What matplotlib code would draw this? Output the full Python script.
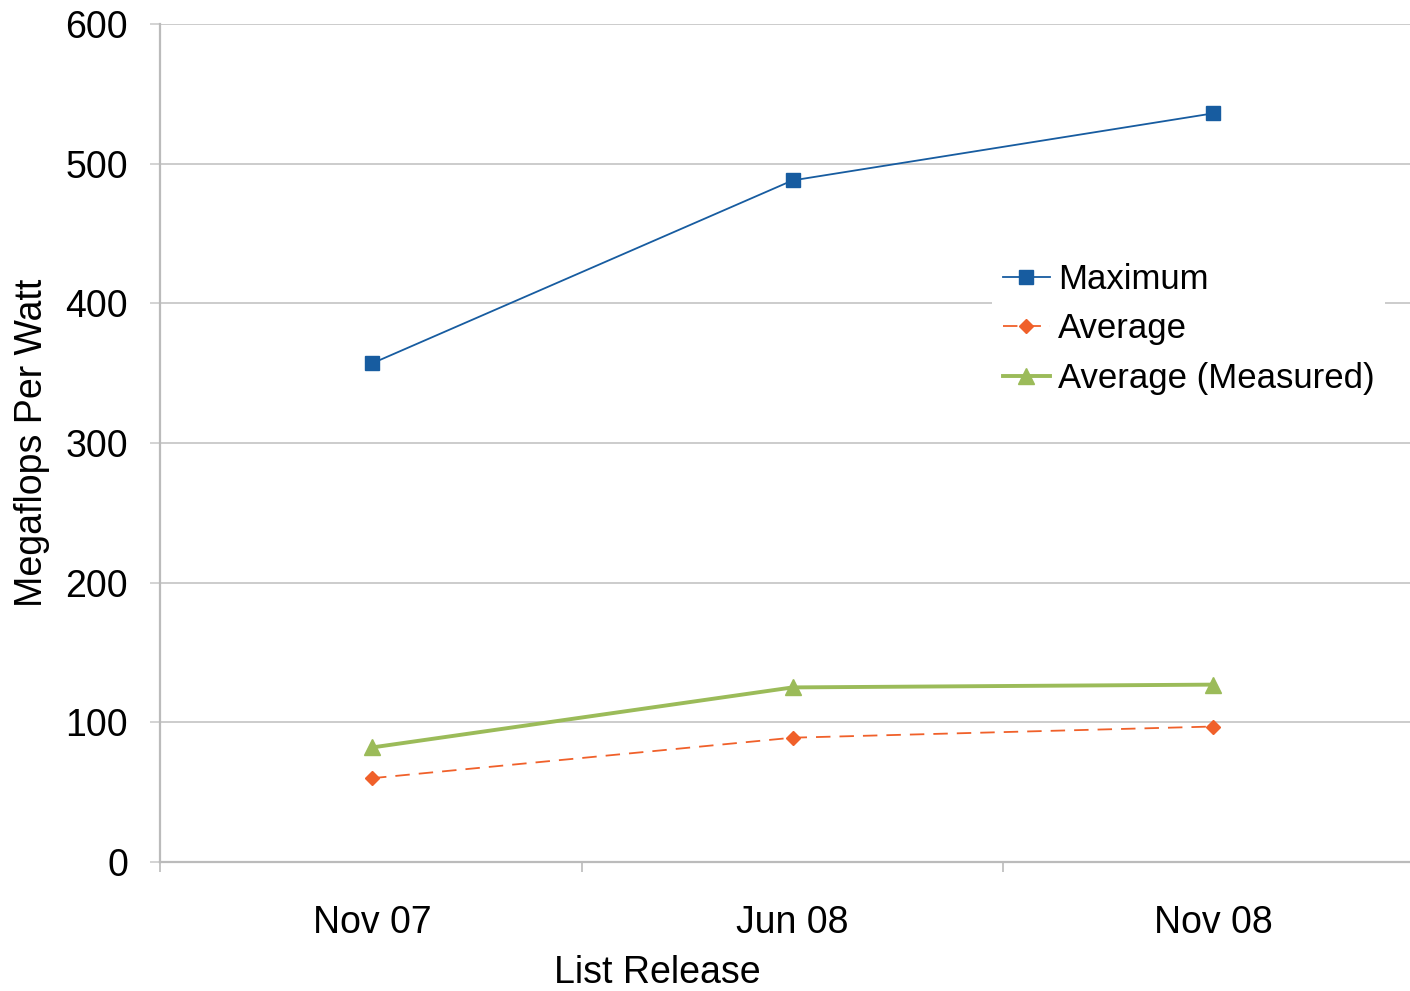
import matplotlib
matplotlib.use("Agg")
import matplotlib.pyplot as plt

categories = ["Nov 07", "Jun 08", "Nov 08"]
maximum = [357, 488, 536]
average = [60, 89, 97]
average_measured = [82, 125, 127]
yticks = [0, 100, 200, 300, 400, 500, 600]

plt.rcParams['font.family'] = ['Liberation Sans', 'DejaVu Sans']

fig = plt.figure(figsize=(14.10, 9.91), dpi=100)
W, H = 1410, 991
ax = fig.add_axes([160 / W, 1 - 862 / H, 1250 / W, (862 - 24) / H])

x = list(range(len(categories)))
ax.plot(x, maximum, color='#175CA0', lw=1.3, marker='s', markersize=10,
        label='Maximum', zorder=4)
ax.plot(x, average, color='#F0602A', lw=1.3, ls=(0, (8, 5)), marker='D', markersize=7,
        label='Average', zorder=4)
ax.plot(x, average_measured, color='#9BBB59', lw=2.8, marker='^', markersize=11,
        label='Average (Measured)', zorder=4)

left = (160 - 372) / 420.5
right = left + 1250 / 420.5
ax.set_ylim(0, 600)
ax.set_yticks(yticks)
ax.set_yticklabels([str(v) for v in yticks])
ax.yaxis.grid(True, color='#cccccc', lw=1.4)
ax.set_axisbelow(True)

ax.set_xticks([left, 0.5, 1.5])
ax.set_xticklabels([])
ax.set_xticks(x, minor=True)
ax.set_xticklabels(categories, minor=True)
ax.set_xlim(left, right)
ax.tick_params(axis='x', which='major', length=7, width=1.2, color='#bbbbbb', direction='out')
ax.tick_params(axis='x', which='minor', length=0, pad=31, labelsize=27)
ax.tick_params(axis='y', length=7, width=1.2, color='#cccccc', pad=16, labelsize=27)

for s in ['top', 'right']:
    ax.spines[s].set_visible(False)
for s in ['left', 'bottom']:
    ax.spines[s].set_color('#bbbbbb')
    ax.spines[s].set_linewidth(1.6)

ax.set_ylabel('Megaflops Per Watt', fontsize=27)
ax.yaxis.set_label_coords(-(160 - 50) / 1250, 0.5)
ax.set_xlabel('List Release', fontsize=27)
ax.xaxis.set_label_coords((657 - 160) / 1250, -(955 - 862) / 838)

leg = ax.legend(loc='upper left', bbox_to_anchor=(975 / W, 1 - 235 / H),
                bbox_transform=fig.transFigure, fontsize=25, frameon=True,
                facecolor='white', edgecolor='none', framealpha=1, fancybox=False,
                handlelength=1.35, handletextpad=0.25, labelspacing=0.48, borderpad=0.3)

fig.savefig('out.png', dpi=100)
